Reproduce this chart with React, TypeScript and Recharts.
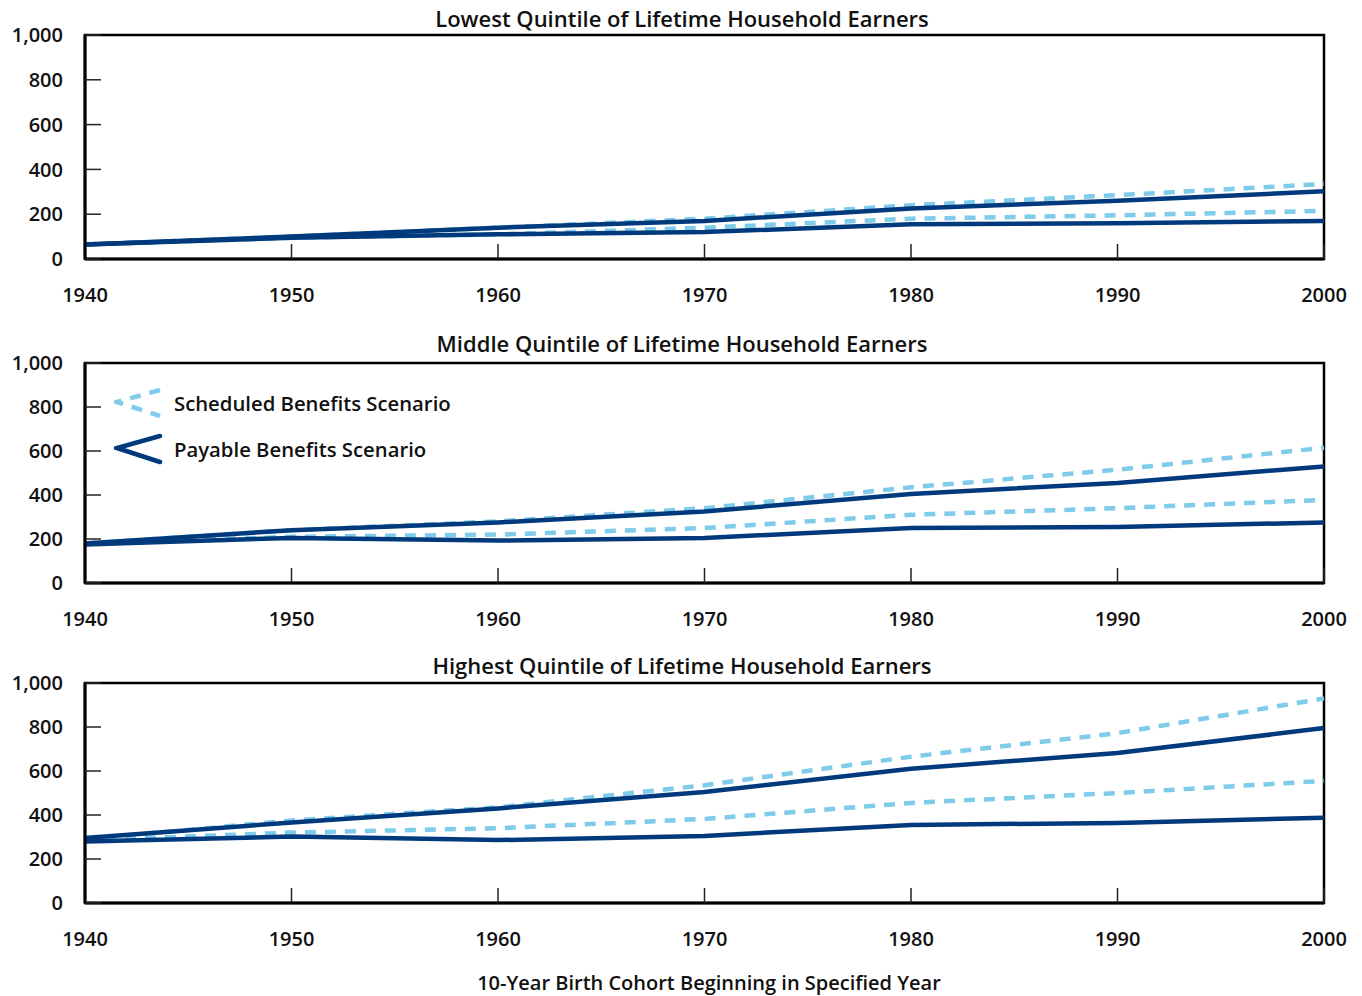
import { LineChart, Line, XAxis, YAxis, ReferenceArea } from "recharts";

const years = [1940, 1950, 1960, 1970, 1980, 1990, 2000];
const yTicks = [0, 200, 400, 600, 800, 1000];

// lowest quintile
const lowSchedHigh = [65, 100, 140, 180, 240, 285, 335];
const lowSchedLow = [65, 95, 110, 140, 180, 195, 215];
const lowPayHigh = [65, 100, 140, 170, 225, 260, 302];
const lowPayLow = [65, 95, 110, 120, 155, 160, 170];

// middle quintile
const midSchedHigh = [180, 240, 280, 340, 435, 515, 615];
const midSchedLow = [180, 210, 220, 250, 310, 340, 378];
const midPayHigh = [180, 240, 275, 325, 405, 455, 530];
const midPayLow = [175, 205, 193, 205, 250, 255, 275];

// highest quintile
const highSchedHigh = [290, 375, 435, 535, 665, 772, 930];
const highSchedLow = [285, 320, 340, 382, 455, 500, 555];
const highPayHigh = [295, 366, 430, 505, 610, 682, 795];
const highPayLow = [280, 302, 286, 305, 355, 364, 388];

const DARK = "#003a7d";
const LIGHT = "#7ecbea";
const FONT = "'Open Sans', sans-serif";

type Row = { year: number; sh: number; sl: number; ph: number; pl: number };

function build(sh: number[], sl: number[], ph: number[], pl: number[]): Row[] {
  return years.map((year, i) => ({ year, sh: sh[i], sl: sl[i], ph: ph[i], pl: pl[i] }));
}

const tickStyle = { fontSize: 20, fill: "#111", fontFamily: FONT, fontWeight: 600 };

function Panel({
  title,
  data,
  top,
  plotHeight,
  titleTop,
  legend,
}: {
  title: string;
  data: Row[];
  top: number;
  plotHeight: number;
  titleTop: number;
  legend?: boolean;
}) {
  const height = 35 + plotHeight + 61;
  return (
    <div style={{ position: "absolute", left: 0, top, width: 1362, height }}>
      <div
        style={{
          position: "absolute",
          top: titleTop,
          left: 0,
          width: 1364,
          textAlign: "center",
          fontFamily: FONT,
          fontWeight: 600,
          fontSize: 22,
          color: "#111",
          lineHeight: "28px",
        }}
      >
        {title}
      </div>
      <LineChart
        width={1362}
        height={height}
        data={data}
        margin={{ top: 35, right: 38, left: 5, bottom: 21 }}
      >
        <XAxis
          dataKey="year"
          type="number"
          domain={[1940, 2000]}
          ticks={years}
          tickSize={-15}
          tickMargin={44}
          height={40}
          axisLine={{ stroke: "#000", strokeWidth: 3 }}
          tickLine={{ stroke: "#222", strokeWidth: 1.5 }}
          tick={tickStyle}
          interval={0}
        />
        <YAxis
          domain={[0, 1000]}
          ticks={yTicks}
          width={80}
          tickSize={-16}
          tickMargin={38}
          axisLine={{ stroke: "#000", strokeWidth: 3 }}
          tickLine={{ stroke: "#222", strokeWidth: 1.5 }}
          tick={tickStyle}
          tickFormatter={(v: number) => v.toLocaleString("en-US")}
          interval={0}
        />
        <ReferenceArea
          x1={1940}
          x2={2000}
          y1={0}
          y2={1000}
          fill="none"
          stroke="#000"
          strokeWidth={2.5}
        />
        <Line dataKey="sh" stroke={LIGHT} strokeWidth={4.5} strokeDasharray="11 9" dot={false} isAnimationActive={false} />
        <Line dataKey="sl" stroke={LIGHT} strokeWidth={4.5} strokeDasharray="11 9" dot={false} isAnimationActive={false} />
        <Line dataKey="ph" stroke={DARK} strokeWidth={4.5} dot={false} isAnimationActive={false} />
        <Line dataKey="pl" stroke={DARK} strokeWidth={4.5} dot={false} isAnimationActive={false} />
      </LineChart>
      {legend && (
        <div style={{ position: "absolute", left: 114, top: 59, fontFamily: FONT, fontWeight: 600, fontSize: 20.3, color: "#111" }}>
          <div style={{ display: "flex", alignItems: "center", height: 32 }}>
            <svg width={50} height={32}>
              <polyline points="46,3 3,15 46,29" fill="none" stroke={LIGHT} strokeWidth={4.5} strokeDasharray="11 9" />
            </svg>
            <span style={{ marginLeft: 10 }}>Scheduled Benefits Scenario</span>
          </div>
          <div style={{ display: "flex", alignItems: "center", height: 32, marginTop: 14 }}>
            <svg width={50} height={32}>
              <polyline points="46,3 3,15 46,29" fill="none" stroke={DARK} strokeWidth={4.5} strokeLinecap="round" />
            </svg>
            <span style={{ marginLeft: 10 }}>Payable Benefits Scenario</span>
          </div>
        </div>
      )}
    </div>
  );
}

export default function App() {
  return (
    <div style={{ position: "absolute", left: 0, top: 0, width: 1362, height: 996, background: "#fff" }}>
      <Panel
        title="Lowest Quintile of Lifetime Household Earners"
        data={build(lowSchedHigh, lowSchedLow, lowPayHigh, lowPayLow)}
        top={0}
        plotHeight={224}
        titleTop={4}
      />
      <Panel
        title="Middle Quintile of Lifetime Household Earners"
        data={build(midSchedHigh, midSchedLow, midPayHigh, midPayLow)}
        top={328}
        plotHeight={220}
        titleTop={1}
        legend
      />
      <Panel
        title="Highest Quintile of Lifetime Household Earners"
        data={build(highSchedHigh, highSchedLow, highPayHigh, highPayLow)}
        top={648}
        plotHeight={220}
        titleTop={3}
      />
      <div
        style={{
          position: "absolute",
          top: 969,
          left: 0,
          width: 1418,
          textAlign: "center",
          fontFamily: FONT,
          fontWeight: 600,
          fontSize: 20,
          color: "#111",
          lineHeight: "28px",
        }}
      >
        10-Year Birth Cohort Beginning in Specified Year
      </div>
    </div>
  );
}
